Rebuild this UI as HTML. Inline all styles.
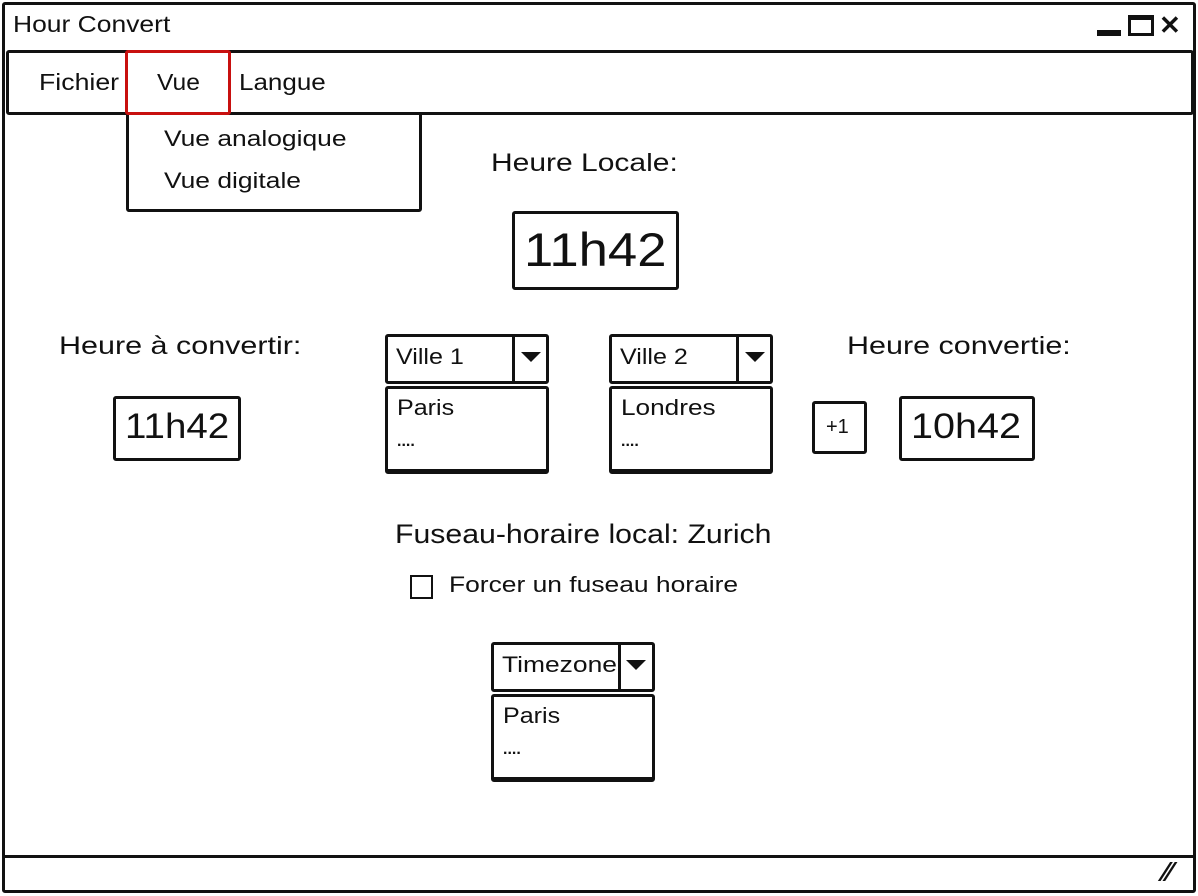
<!DOCTYPE html>
<html><head><meta charset="utf-8"><style>
body{margin:0;width:1198px;height:896px;background:#fff;position:relative;overflow:hidden;font-family:"Liberation Sans",sans-serif;color:#111}
.a{position:absolute;box-sizing:border-box}
.b{border:3px solid #111;border-radius:3px;background:#fff}
.t{position:absolute;white-space:nowrap;line-height:1;transform-origin:0 50%}
</style></head><body>
<div class="a" style="left:2px;top:2px;width:1194px;height:891px;border:3px solid #111;border-radius:3px"></div>
<div class="t" style="left:13px;top:13px;font-size:23px;transform:scaleX(1.15)">Hour Convert</div>
<div class="a" style="left:1097px;top:30px;width:24px;height:6px;background:#111"></div>
<div class="a" style="left:1128px;top:15px;width:26px;height:21px;border:3px solid #111;border-top-width:5px"></div>
<div class="t" style="left:1159px;top:12px;font-size:26px;font-weight:bold">✕</div>
<div class="a b" style="left:6px;top:50px;width:1188px;height:65px"></div>
<div class="t" style="left:39px;top:71px;font-size:23px;transform:scaleX(1.16)">Fichier</div>
<div class="t" style="left:239px;top:71px;font-size:23px;transform:scaleX(1.13)">Langue</div>
<div class="a b" style="left:126px;top:112px;width:296px;height:100px"></div>
<div class="t" style="left:164px;top:128px;font-size:22px;transform:scaleX(1.2)">Vue analogique</div>
<div class="t" style="left:164px;top:170px;font-size:22px;transform:scaleX(1.2)">Vue digitale</div>
<div class="a" style="left:125px;top:50px;width:106px;height:65px;border:3px solid #c8100f;border-radius:3px"></div>
<div class="t" style="left:157px;top:71px;font-size:23px;transform:scaleX(1.07)">Vue</div>

<div class="t" style="left:491px;top:151px;font-size:25px;transform:scaleX(1.2)">Heure Locale:</div>
<div class="a b" style="left:512px;top:211px;width:167px;height:79px"></div>
<div class="t" style="left:524px;top:226px;font-size:47px;transform:scaleX(1.12)">11h42</div>

<div class="t" style="left:59px;top:334px;font-size:25px;transform:scaleX(1.22)">Heure à convertir:</div>
<div class="a b" style="left:113px;top:396px;width:128px;height:65px"></div>
<div class="t" style="left:125px;top:409px;font-size:35px;transform:scaleX(1.1)">11h42</div>

<div class="a b" style="left:385px;top:334px;width:164px;height:50px"></div>
<div class="a" style="left:512px;top:334px;width:3px;height:50px;background:#111"></div>
<div class="a" style="left:521px;top:352px;border-left:10px solid transparent;border-right:10px solid transparent;border-top:10px solid #111"></div>
<div class="t" style="left:396px;top:346px;font-size:22px;transform:scaleX(1.14)">Ville 1</div>
<div class="a b" style="left:385px;top:386px;width:164px;height:88px;border-bottom-width:5px"></div>
<div class="t" style="left:397px;top:397px;font-size:22px;transform:scaleX(1.14)">Paris</div>
<div class="t" style="left:397px;top:434px;font-size:16px;font-weight:bold">....</div>

<div class="a b" style="left:609px;top:334px;width:164px;height:50px"></div>
<div class="a" style="left:736px;top:334px;width:3px;height:50px;background:#111"></div>
<div class="a" style="left:745px;top:352px;border-left:10px solid transparent;border-right:10px solid transparent;border-top:10px solid #111"></div>
<div class="t" style="left:620px;top:346px;font-size:22px;transform:scaleX(1.14)">Ville 2</div>
<div class="a b" style="left:609px;top:386px;width:164px;height:88px;border-bottom-width:5px"></div>
<div class="t" style="left:621px;top:397px;font-size:22px;transform:scaleX(1.19)">Londres</div>
<div class="t" style="left:621px;top:434px;font-size:16px;font-weight:bold">....</div>

<div class="t" style="left:847px;top:334px;font-size:25px;transform:scaleX(1.22)">Heure convertie:</div>
<div class="a b" style="left:812px;top:401px;width:55px;height:53px"></div>
<div class="t" style="left:826px;top:417px;font-size:20px">+1</div>
<div class="a b" style="left:899px;top:396px;width:136px;height:65px"></div>
<div class="t" style="left:911px;top:409px;font-size:35px;transform:scaleX(1.13)">10h42</div>

<div class="t" style="left:395px;top:521px;font-size:27px;transform:scaleX(1.12)">Fuseau-horaire local: Zurich</div>
<div class="a" style="left:410px;top:575px;width:23px;height:24px;border:2px solid #111"></div>
<div class="t" style="left:449px;top:574px;font-size:22px;transform:scaleX(1.2)">Forcer un fuseau horaire</div>

<div class="a b" style="left:491px;top:642px;width:164px;height:50px"></div>
<div class="a" style="left:618px;top:642px;width:3px;height:50px;background:#111"></div>
<div class="a" style="left:626px;top:660px;border-left:10px solid transparent;border-right:10px solid transparent;border-top:10px solid #111"></div>
<div class="t" style="left:502px;top:654px;font-size:22px;transform:scaleX(1.2)">Timezone</div>
<div class="a b" style="left:491px;top:694px;width:164px;height:88px;border-bottom-width:5px"></div>
<div class="t" style="left:503px;top:705px;font-size:22px;transform:scaleX(1.14)">Paris</div>
<div class="t" style="left:503px;top:742px;font-size:16px;font-weight:bold">....</div>

<div class="a" style="left:2px;top:855px;width:1194px;height:3px;background:#111"></div>
<div class="t" style="left:1163px;top:858px;font-size:28px;font-weight:bold">⁄⁄</div>
</body></html>
